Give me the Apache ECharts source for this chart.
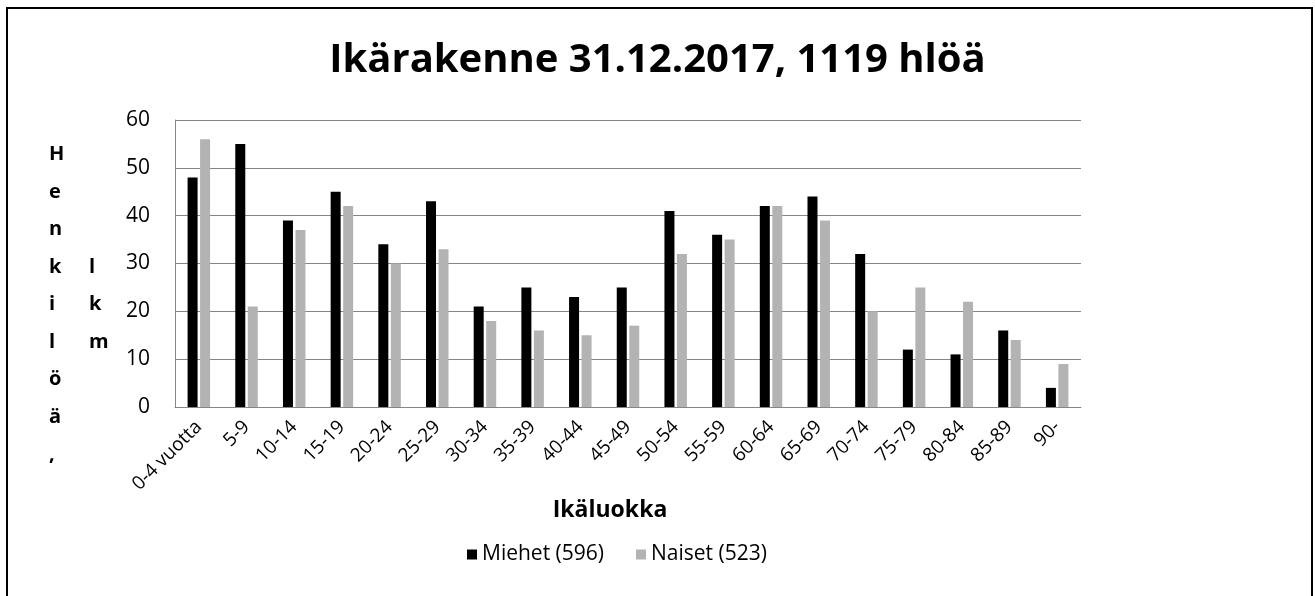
<!DOCTYPE html>
<html>
<head>
<meta charset="utf-8">
<script src="https://cdn.jsdelivr.net/npm/echarts@6/dist/echarts.min.js"></script>
<style>
  html, body { margin: 0; padding: 0; background: #fff; }
  #chart { width: 1315px; height: 596px; }
</style>
</head>
<body>
<div id="chart"></div>
<script>
'use strict';

const categories = ['0-4 vuotta', '5-9', '10-14', '15-19', '20-24', '25-29', '30-34', '35-39',
  '40-44', '45-49', '50-54', '55-59', '60-64', '65-69', '70-74', '75-79', '80-84', '85-89', '90-'];
const miehet = [48, 55, 39, 45, 34, 43, 21, 25, 23, 25, 41, 36, 42, 44, 32, 12, 11, 16, 4];
const naiset = [56, 21, 37, 42, 30, 33, 18, 16, 15, 17, 32, 35, 42, 39, 20, 25, 22, 14, 9];
const seriesNames = ['Miehet (596)', 'Naiset (523)'];
const yTitleCol1 = ['H', 'e', 'n', 'k', 'i', 'l', 'ö', 'ä', ','];
const yTitleCol2 = ['l', 'k', 'm'];

const FONT = '"Open Sans", Lato, sans-serif';
const gridColor = '#868686';

const chart = echarts.init(document.getElementById('chart'));

chart.setOption({
  animation: false,
  backgroundColor: '#fff',
  textStyle: { fontFamily: FONT, color: '#000' },
  title: {
    text: 'Ikärakenne 31.12.2017, 1119 hlöä',
    left: 'center',
    top: 36,
    textStyle: { fontFamily: FONT, fontSize: 40, fontWeight: 'bold', color: '#000' },
  },
  legend: {
    bottom: 26,
    left: 462,
    itemWidth: 10,
    itemHeight: 10,
    itemGap: 32,
    icon: 'rect',
    textStyle: { fontFamily: FONT, fontSize: 21, color: '#000' },
    data: seriesNames,
  },
  grid: { left: 175, right: 234, top: 120, bottom: 189, containLabel: false },
  xAxis: {
    type: 'category',
    data: categories,
    name: 'Ikäluokka',
    nameLocation: 'middle',
    nameGap: 92,
    nameTextStyle: { fontFamily: FONT, fontSize: 23, fontWeight: 'bold', color: '#000', padding: [0, 36, 0, 0] },
    axisLine: { show: true, lineStyle: { color: gridColor, width: 1 } },
    axisTick: { show: false },
    axisLabel: { rotate: 45, fontSize: 19, color: '#000', margin: 17, interval: 0 },
  },
  yAxis: {
    type: 'value',
    min: 0,
    max: 60,
    interval: 10,
    axisLine: { show: true, lineStyle: { color: gridColor, width: 1 } },
    axisTick: { show: false },
    axisLabel: { fontSize: 21, color: '#000', margin: 25 },
    splitLine: { show: true, lineStyle: { color: gridColor, width: 1 } },
  },
  series: [
    {
      name: seriesNames[0],
      type: 'bar',
      data: miehet,
      barWidth: 10,
      barGap: '25%',
      itemStyle: { color: '#000' },
    },
    {
      name: seriesNames[1],
      type: 'bar',
      data: naiset,
      barWidth: 10,
      itemStyle: { color: '#b3b3b3' },
    },
  ],
  graphic: [
    {
      type: 'rect',
      shape: { x: 7, y: 8, width: 1305, height: 620 },
      style: { fill: 'none', stroke: '#000', lineWidth: 2 },
      silent: true,
    },
    {
      type: 'text',
      left: 49,
      top: 136,
      style: {
        text: yTitleCol1.join('\n'),
        font: 'bold 20px ' + FONT,
        lineHeight: 37.5,
        align: 'center',
        fill: '#000',
      },
    },
    {
      type: 'text',
      left: 89,
      top: 248.5,
      style: {
        text: yTitleCol2.join('\n'),
        font: 'bold 20px ' + FONT,
        lineHeight: 37.5,
        align: 'center',
        fill: '#000',
      },
    },
  ],
});
</script>
</body>
</html>
